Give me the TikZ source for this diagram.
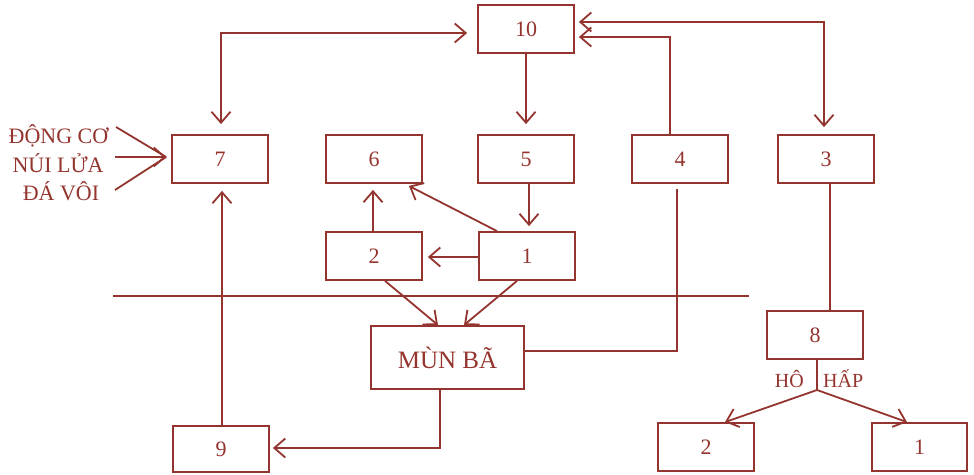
\documentclass[tikz,border=0pt]{standalone}
\usepackage{fontspec}
\setmainfont{Liberation Serif}
\usetikzlibrary{arrows.meta}
\definecolor{ink}{RGB}{148,52,46}
\begin{document}
\begin{tikzpicture}[x=1pt,y=-1pt,
  box/.style={draw=ink, line width=1.8pt, minimum width=96pt, minimum height=48pt, inner sep=0pt, text=ink, font=\fontsize{22}{26}\selectfont},
  conn/.style={draw=ink, line width=1.8pt},
  arr/.style={conn, -{Straight Barb[length=11pt,width=19pt]}},
  darr/.style={conn, {Straight Barb[length=11pt,width=19pt]}-{Straight Barb[length=11pt,width=19pt]}},
  lbl/.style={text=ink, inner sep=0pt, font=\fontsize{22}{26}\selectfont},
  slbl/.style={text=ink, inner sep=0pt, font=\fontsize{20}{24}\selectfont}]
\useasboundingbox (0,0) rectangle (974,474);
% boxes
\node[box] (n10) at (526,29) {10};
\node[box] (n7) at (220,159) {7};
\node[box] (n6) at (374,159) {6};
\node[box] (n5) at (526,159) {5};
\node[box] (n4) at (680,159) {4};
\node[box] (n3) at (826,159) {3};
\node[box] (n2) at (374,256) {2};
\node[box] (n1) at (527,256) {1};
\node[box, minimum width=153pt, minimum height=63pt, font=\fontsize{25}{29}\selectfont] (mb) at (447.5,357.5) {MÙN BÃ};
\node[box] (n8) at (815,335) {8};
\node[box] (b2) at (706,447) {2};
\node[box, minimum width=95pt] (b1) at (919.5,447) {1};
\node[box, minimum height=46pt] (n9) at (221,449) {9};
% horizontal separator
\coordinate (hl1) at (113,296);
\coordinate (hl2) at (749,296);
\draw[conn] (hl1) -- (hl2);
% left text
\node[lbl, anchor=base] (t1) at (58.5,143) {ĐỘNG CƠ};
\node[lbl, anchor=base] (t2) at (58,172) {NÚI LỬA};
\node[lbl, anchor=base] (t3) at (61,200) {ĐÁ VÔI};
\coordinate (tip) at ([xshift=-5pt,yshift=2pt]n7.west);
\coordinate (in1) at (116,127);
\coordinate (in2) at (115,157);
\coordinate (in3) at (115,190);
\draw[conn] (in1) -- (tip);
\draw[arr] (in2) -- (tip);
\draw[conn] (in3) -- (tip);
% connectors
\draw[darr, shorten <=10pt] ([xshift=1pt]n7.north) |- ([xshift=-10pt,yshift=-4pt]n10.west);
\draw[arr, shorten >=10pt] (n10.south) -- (n5.north);
\draw[arr] ([xshift=-10pt]n4.north) |- ([xshift=4pt,yshift=-8pt]n10.east);
\draw[darr, shorten >=7pt] ([xshift=4pt,yshift=7pt]n10.east) -| ([xshift=-2pt]n3.north);
\draw[arr, shorten >=5pt] ([xshift=3pt]n5.south) -- ([xshift=2pt]n1.north);
\draw[arr, shorten >=5pt] ([yshift=-1pt]n1.west) -- ([yshift=-1pt]n2.east);
\draw[arr] ([xshift=-30pt]n1.north) -- ([xshift=-14pt,yshift=-2pt]n6.south east);
\draw[arr, shorten >=6pt] ([xshift=-1pt]n2.north) -- ([xshift=-1pt]n6.south);
\draw[arr] ([xshift=11pt]n2.south) -- ([xshift=-9.5pt]mb.north);
\draw[arr] ([xshift=-10pt]n1.south) -- ([xshift=16.5pt]mb.north);
\draw[conn] ([yshift=6.5pt]mb.east) -| ([xshift=-3pt,yshift=-5pt]n4.south);
\draw[arr, shorten >=3pt] ([xshift=-7.5pt]mb.south) |- ([yshift=1pt]n9.east);
\draw[arr, shorten >=7pt] ([xshift=1pt]n9.north) -- ([xshift=2pt]n7.south);
\draw[conn] ([xshift=4pt]n3.south) -- ([xshift=4pt]n3.south |- n8.north);
\coordinate (fork) at (817,390);
\draw[conn] ([xshift=2pt]n8.south) -- (fork);
\draw[arr] (fork) -- ([xshift=19pt]b2.north);
\draw[arr] (fork) -- ([xshift=-12.5pt]b1.north);
\node[slbl, anchor=base east] (ho) at (804,387) {HÔ};
\node[slbl, anchor=base west] (hap) at (823,387) {HẤP};
\end{tikzpicture}
\end{document}
